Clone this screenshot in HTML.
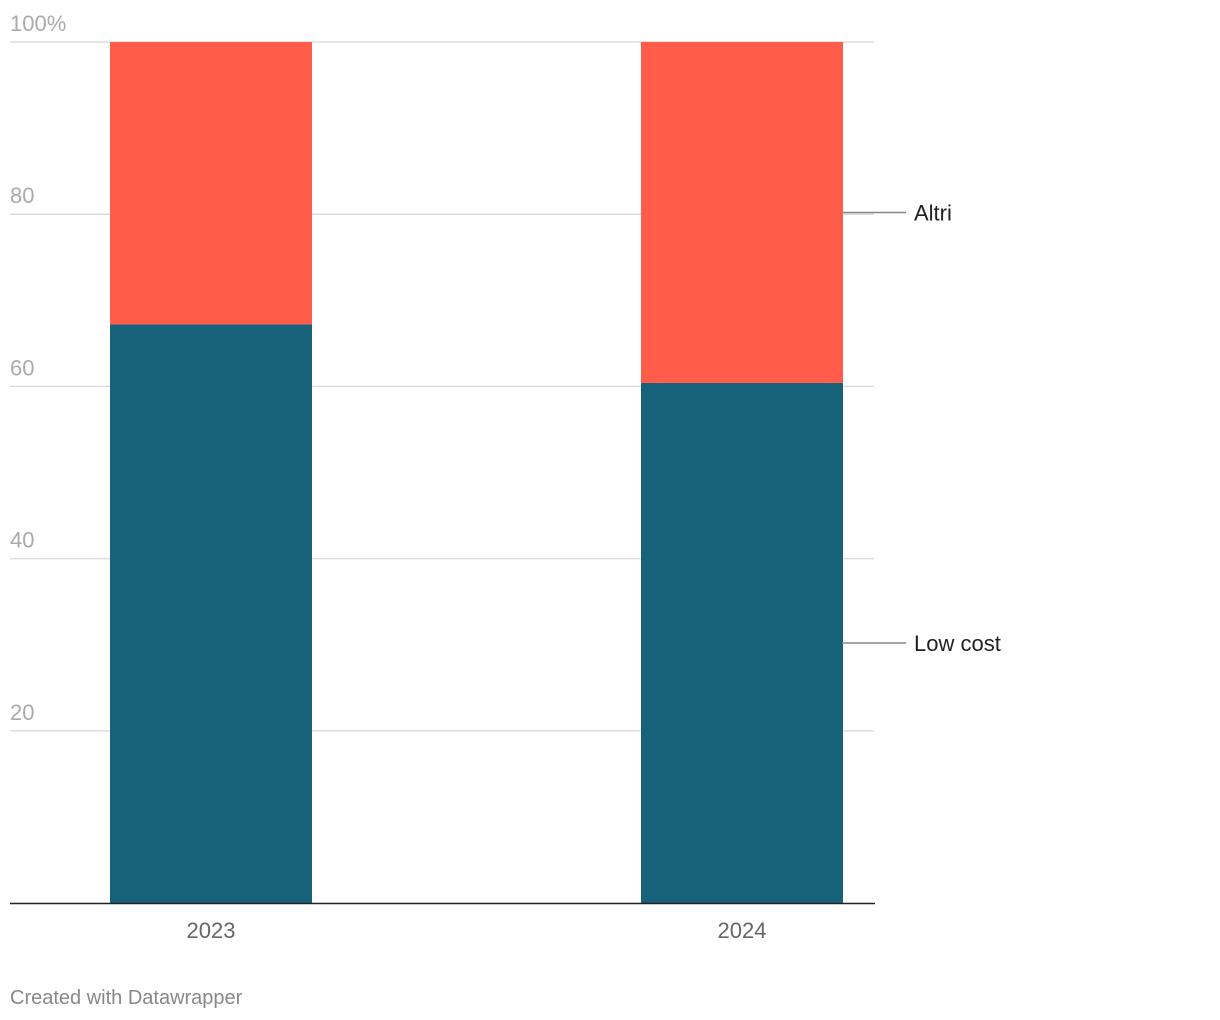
<!DOCTYPE html>
<html><head><meta charset="utf-8"><style>
body{margin:0;background:#fff;font-family:"Liberation Sans",sans-serif;}
svg{display:block}
</style></head><body>
<svg id="chart" width="1220" height="1020" xmlns="http://www.w3.org/2000/svg">
<g id="grid"></g><g id="bars"></g><g id="labels"></g>
<text x="10" y="1004" font-size="20" fill="#888">Created with Datawrapper</text>
</svg>
<script>
const categories = ["2023", "2024"];
const lowCost = [67.2, 60.4];
const altri = [32.8, 39.6];
const seriesNames = ["Low cost", "Altri"];
const tickValues = [20, 40, 60, 80, 100];
const tickLabels = ["20", "40", "60", "80", "100%"];

const NS = "http://www.w3.org/2000/svg";
const y0 = 903, yTop = 42;
const y = v => y0 - (y0 - yTop) * v / 100;
const barLeft = [110, 641], barW = 202;
const x = i => barLeft[i];
function mk(tag, attrs, parent, text){
  const el = document.createElementNS(NS, tag);
  for (const k in attrs) el.setAttribute(k, attrs[k]);
  if (text !== undefined) el.textContent = text;
  parent.appendChild(el); return el;
}
const grid = document.getElementById('grid');
const bars = document.getElementById('bars');
const labels = document.getElementById('labels');
tickValues.forEach((v, i) => {
  const l = mk('line', {x1:10, x2:874, y1:y(v), y2:y(v), stroke:'#ddd', 'stroke-width':1.5}, grid);
  
  
  const t = mk('text', {x:10, y:y(v)-11, 'font-size':22, fill:'#aaa'}, grid, tickLabels[i]);
  
  
});
categories.forEach((c, i) => {
  const r1 = mk('rect', {x:x(i), y:y(lowCost[i]), width:barW, height:y0 - y(lowCost[i]), fill:'#18617a'}, bars);
  
  
  const top = lowCost[i] + altri[i];
  const r2 = mk('rect', {x:x(i), y:y(top), width:barW, height:y(lowCost[i]) - y(top), fill:'#ff5d4a'}, bars);
  
  
  const t = mk('text', {x:x(i) + barW/2, y:938, 'font-size':22, fill:'#666', 'text-anchor':'middle'}, labels, c);
  
  
});
const axis = mk('line', {x1:10, x2:875, y1:y0+0.5, y2:y0+0.5, stroke:'#222', 'stroke-width':1.5}, labels);


const last = categories.length - 1;
const mids = [lowCost[last]/2, lowCost[last] + altri[last]/2];
seriesNames.forEach((n, i) => {
  const yy = y(mids[i]);
  const l = mk('line', {x1:842, x2:906, y1:yy, y2:yy, stroke:'#888', 'stroke-width':1.5}, labels);
  
  
  const t = mk('text', {x:914, y:yy+8, 'font-size':22, fill:'#222'}, labels, n);
  
  
});
</script>
</body></html>
